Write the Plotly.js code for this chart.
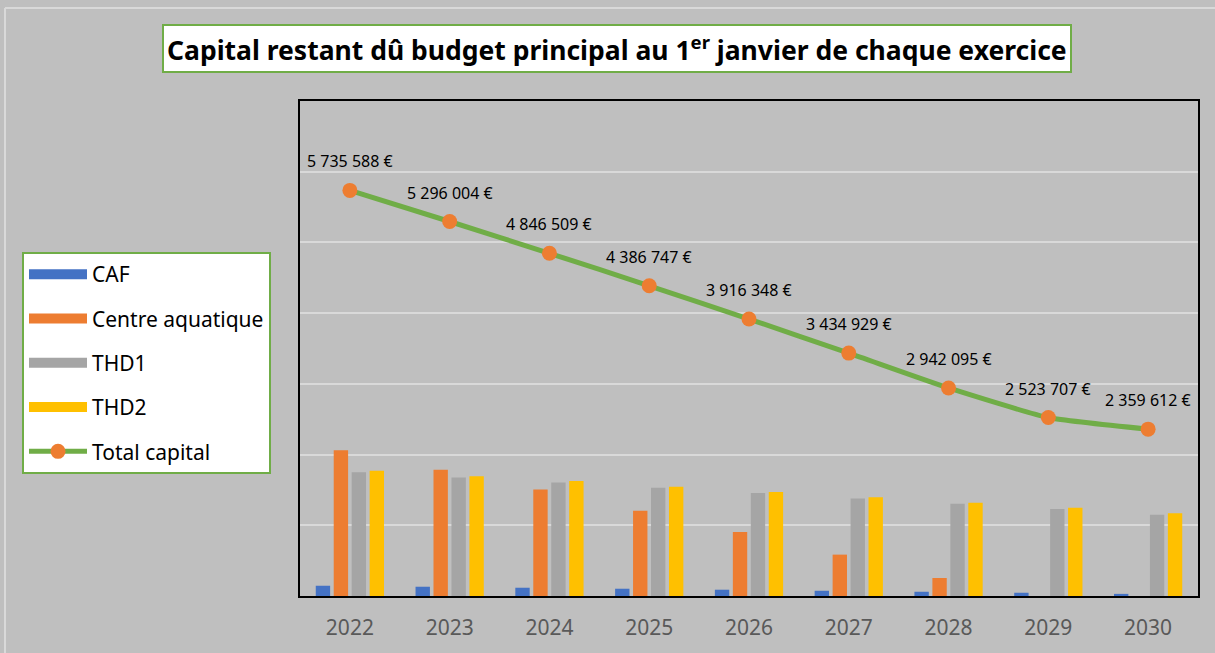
<!DOCTYPE html>
<html>
<head>
<meta charset="utf-8">
<script src="https://cdn.plot.ly/plotly-3.0.1.min.js"></script>
<style>html,body{margin:0;padding:0;background:#bfbfbf;}#chart{width:1215px;height:653px;}</style>
</head>
<body>
<div id="chart"></div>
<script>
const years = ['2022','2023','2024','2025','2026','2027','2028','2029','2030'];
const caf = [145000, 131000, 117000, 103000, 89000, 74000, 60000, 46000, 30000];
const centreAquatique = [2060000, 1785000, 1505000, 1205000, 905000, 585000, 255000, 0, 0];
const thd1 = [1750000, 1675000, 1605000, 1532000, 1455000, 1380000, 1305000, 1230000, 1150000];
const thd2 = [1770000, 1695000, 1625000, 1545000, 1470000, 1395000, 1320000, 1248000, 1170000];
const totalCapital = [5735588, 5296004, 4846509, 4386747, 3916348, 3434929, 2942095, 2523707, 2359612];
const seriesNames = ['CAF', 'Centre aquatique', 'THD1', 'THD2', 'Total capital'];
const colors = ['#4472c4', '#ed7d31', '#a5a5a5', '#ffc000'];

function fmt(v){ return String(v).replace(/\B(?=(\d{3})+(?!\d))/g, ' ') + ' €'; }

const barData = [caf, centreAquatique, thd1, thd2];
const traces = [];
barData.forEach((vals, i) => {
  traces.push({type:'bar', x: years, y: vals, name: seriesNames[i], marker:{color: colors[i]},
    legendgroup: 'g'+i, showlegend:false, hoverinfo:'y+name'});
  // legend swatch only (no visible mark)
  traces.push({type:'scatter', mode:'lines', x:[years[0]], y:[null], name: seriesNames[i],
    legendgroup: 'g'+i, line:{color: colors[i], width: 14}, hoverinfo:'skip'});
});
traces.push({type:'scatter', mode:'lines+markers', x: years, y: totalCapital, name: seriesNames[4],
  legendgroup:'g4',
  line:{color:'#70ad47', width:5, shape:'spline', smoothing:0.5},
  marker:{color:'#ed7d31', size:15}});

const annotations = years.map((yr, i) => ({
  x: i, y: totalCapital[i], xref:'x', yref:'y', text: fmt(totalCapital[i]),
  showarrow:false, yshift: 29, font:{family:'Noto Sans, sans-serif', size:16, color:'#000'}
}));
annotations.push({
  xref:'paper', yref:'paper', x: (616.5-300)/898, y: (596-49)/495, xanchor:'center', yanchor:'middle',
  text:'<b>Capital restant dû budget principal au 1<sup>er</sup> janvier de chaque exercice</b>',
  showarrow:false, bgcolor:'#ffffff', bordercolor:'#70ad47', borderwidth:2, borderpad:3,
  font:{family:'Noto Sans, sans-serif', size:26.5, color:'#000'}
});

const px = v => (v-300)/898, py = v => (596-v)/495;
const shapes = [
  {type:'line', xref:'paper', yref:'paper', x0:px(5), x1:px(1215), y0:py(8), y1:py(8), line:{color:'#d9d9d9', width:2}, layer:'below'},
  {type:'line', xref:'paper', yref:'paper', x0:px(5), x1:px(5), y0:py(8), y1:py(653), line:{color:'#d9d9d9', width:2}, layer:'below'}
];

const layout = {
  width:1215, height:653,
  paper_bgcolor:'#bfbfbf', plot_bgcolor:'#bfbfbf',
  margin:{l:300, r:17, t:101, b:57},
  barmode:'group', bargap:0.28, bargroupgap:0.2,
  showlegend:true,
  legend:{x:(22-300)/898, y:(596-252)/495, xanchor:'left', yanchor:'top',
    bgcolor:'#ffffff', bordercolor:'#70ad47', borderwidth:2,
    font:{family:'Noto Sans, sans-serif', size:21, color:'#000'},
    itemwidth:58, tracegroupgap:14, traceorder:'grouped'},
  xaxis:{type:'category', range:[-0.5, 8.5], tickfont:{family:'Noto Sans, sans-serif', size:21, color:'#595959'},
    ticklabelstandoff:12,
    showline:true, linecolor:'#000', linewidth:2, mirror:true, ticks:'', showgrid:false},
  yaxis:{range:[0,7000000], dtick:1000000, showticklabels:false, showgrid:true,
    gridcolor:'#d9d9d9', gridwidth:2, zeroline:false,
    showline:true, linecolor:'#000', linewidth:2, mirror:true, ticks:''},
  annotations: annotations,
  shapes: shapes
};

Plotly.newPlot('chart', traces, layout, {displayModeBar:false, staticPlot:true});
</script>
</body>
</html>
